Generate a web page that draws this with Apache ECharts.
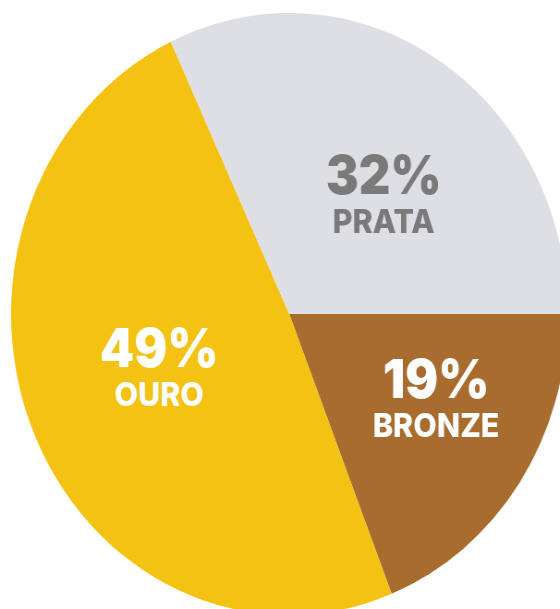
<!DOCTYPE html>
<html>
<head>
<meta charset="utf-8">
<script src="https://cdn.jsdelivr.net/npm/echarts@6/dist/echarts.min.js"></script>
<style>
html,body{margin:0;padding:0;background:#fff;overflow:hidden;}
#wrap{width:560px;height:609px;overflow:hidden;position:relative;}
#chart{width:606px;height:609px;transform:scaleX(0.924);transform-origin:0 0;position:absolute;left:0;top:0;}
</style>
</head>
<body>
<div id="wrap"><div id="chart"></div></div>
<script>
const categories = ['BRONZE', 'OURO', 'PRATA'];
const values = [19, 49, 32];
const colors = ['#A86C2E', '#F3C213', '#DEDFE4'];
const textColors = ['#FFFFFF', '#FFFFFF', '#7A7A7A'];
const labelShift = [[32, 0], [0, -6], [20, 12]];

const chart = echarts.init(document.getElementById('chart'), null, {renderer: 'canvas'});
chart.setOption({
  animation: false,
  series: [{
    type: 'pie',
    center: [313, 314],
    radius: [0, 301],
    startAngle: 0,
    clockwise: true,
    avoidLabelOverlap: false,
    itemStyle: {borderWidth: 0},
    emphasis: {disabled: true},
    data: categories.map((c, i) => ({
      name: c,
      value: values[i],
      itemStyle: {color: colors[i]},
      label: {
        rich: {
          p: {fontFamily: 'Inter', fontWeight: 900, fontSize: 53, color: textColors[i], lineHeight: 54},
          n: {fontFamily: 'Inter', fontWeight: 800, fontSize: 33, color: textColors[i], lineHeight: 36}
        }
      }
    })),
    label: {
      show: true,
      position: 'inside',
      align: 'center',
      formatter: p => '{p|' + p.value + '%}\n{n|' + p.name + '}'
    },
    labelLine: {show: false},
    labelLayout: p => ({dx: labelShift[p.dataIndex][0], dy: labelShift[p.dataIndex][1]})
  }]
});
</script>
</body>
</html>
